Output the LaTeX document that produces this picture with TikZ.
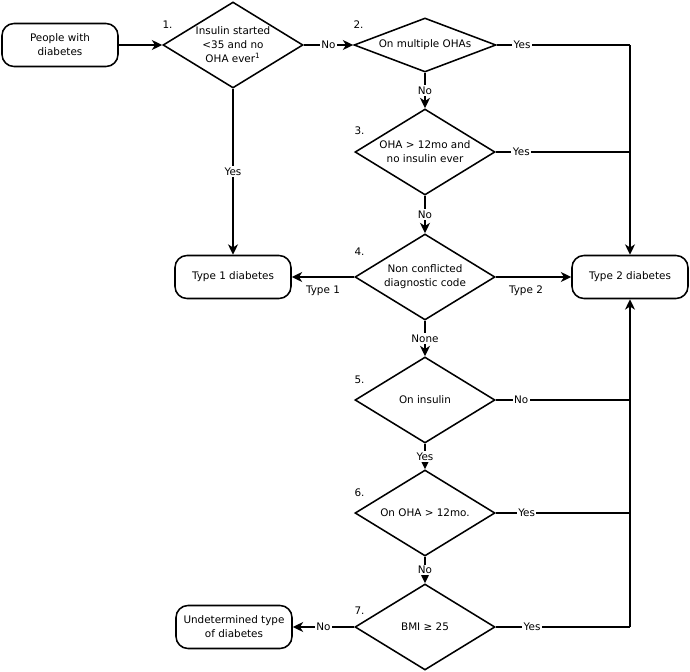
\documentclass[tikz,border=0pt]{standalone}
\usepackage{fontspec}
\setmainfont{DejaVu Sans}
\usetikzlibrary{shapes.geometric, arrows.meta, positioning}
\tikzset{
  fcterminal/.style={rectangle, rounded corners=0.3cm, draw, line width=1.1pt,
                     minimum width=2.9cm, minimum height=1.075cm,
                     inner sep=1pt, align=center},
  fcdecision/.style={diamond, draw, line width=1.1pt, aspect=1.63,
                     minimum width=3.5cm, minimum height=2.15cm,
                     inner sep=0pt, align=center},
  fcflat/.style={fcdecision, aspect=2.63, minimum width=3.55cm,
                 minimum height=1.35cm},
  fcstep/.style={anchor=west, inner sep=0pt},
  fclink/.style={draw, line width=1.1pt},
  fcarrow/.style={fclink, -{Stealth[length=2.6mm, width=2.5mm, inset=0.8mm]}},
  fclabel/.style={fill=white, inner sep=1pt},
  fcside/.style={below=5pt, inner sep=1pt}
}

\begin{document}
\begin{tikzpicture}[
    font=\fontsize{7.4}{10}\selectfont
]
  \useasboundingbox (0,0) rectangle (17.25,-16.8);

  \node[fcterminal] (people) at (1.5, -1.125) {People with\\diabetes};
  \node[fcdecision] (d1) at (5.825, -1.125)
    {Insulin started\\<35 and no\\OHA ever\textsuperscript{1}};
  \node[fcflat] (d2) at (10.625, -1.125) {On multiple OHAs};
  \node[fcdecision] (d3) at (10.625, -3.8) {OHA > 12mo and\\no insulin ever};
  \node[fcdecision] (d4) at (10.625, -6.925) {Non conflicted\\diagnostic code};
  \node[fcdecision] (d5) at (10.625, -10.0) {On insulin};
  \node[fcdecision] (d6) at (10.625, -12.825) {On OHA > 12mo.};
  \node[fcdecision] (d7) at (10.625, -15.675) {BMI ≥ 25};

  \node[fcterminal] (type1) at (5.825, -6.925) {Type 1 diabetes};
  \node[fcterminal] (type2) at (15.75, -6.925) {Type 2 diabetes};
  \node[fcterminal] (undet) at (5.85, -15.675) {Undetermined type\\of diabetes};

  \foreach \i/\up in {1/0.5, 2/0.52, 3/0.52, 4/0.62, 5/0.5, 6/0.5, 7/0.4} {
    \node[fcstep] (s\i) at ([yshift=\up cm]d\i.west) {\i.};
  }

  \draw[fcarrow] (people) -- (d1);
  \draw[fcarrow] (d1) -- node[fclabel] {No} (d2);
  \draw[fcarrow] (d1) -- node[fclabel] {Yes} (type1);

  % down the column of questions
  \foreach \a/\b/\t in {d2/d3/No, d3/d4/No, d4/d5/None, d5/d6/Yes, d6/d7/No} {
    \draw[fcarrow] (\a) -- node[fclabel] {\t} (\b);
  }

  \draw[fcarrow] (d4) -- node[fcside] {Type 1} (type1);
  \draw[fcarrow] (d4) -- node[fcside, pos=0.4] {Type 2} (type2);
  \draw[fcarrow] (d7) -- node[fclabel] {No} (undet);

  % the collecting line into Type 2
  \coordinate (j2) at (d2 -| type2);
  \coordinate (j7) at (d7 -| type2);
  \foreach \d/\t/\p in {d2/Yes/0.19, d3/Yes/0.19, d5/No/0.19, d6/Yes/0.23, d7/Yes/0.27} {
    \draw[fclink] (\d) -- node[fclabel, pos=\p] {\t} (\d -| type2);
  }
  \draw[fcarrow] (j2) -- (type2);
  \draw[fcarrow] (j7) -- (type2);
\end{tikzpicture}
\end{document}
